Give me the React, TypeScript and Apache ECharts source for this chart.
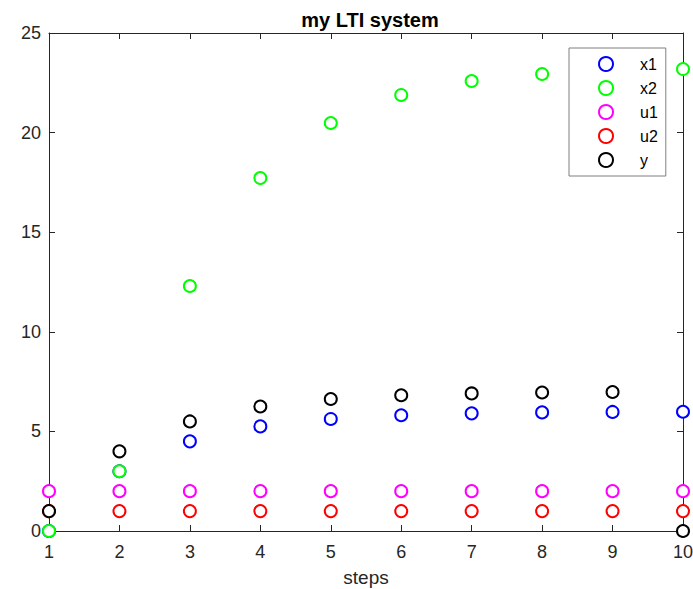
import React, { useEffect, useRef } from "react";
import * as echarts from "echarts";

const steps = [1, 2, 3, 4, 5, 6, 7, 8, 9, 10];
const x1 = [0, 3, 4.5, 5.25, 5.625, 5.8125, 5.906, 5.953, 5.977, 5.988];
const x2 = [0, 3, 12.3, 17.72, 20.48, 21.89, 22.59, 22.94, 23.1, 23.19];
const u1 = [2, 2, 2, 2, 2, 2, 2, 2, 2, 2];
const u2 = [1, 1, 1, 1, 1, 1, 1, 1, 1, 1];
const yOut = [1, 4, 5.5, 6.25, 6.625, 6.8125, 6.906, 6.953, 6.977, 0];
const seriesNames = ["x1", "x2", "u1", "u2", "y"];
const seriesColors = ["#0000ff", "#00ff00", "#ff00ff", "#ff0000", "#000000"];
const seriesData = [x1, x2, u1, u2, yOut];
const yTicks = [0, 5, 10, 15, 20, 25];

const FONT = "'Liberation Sans', Arial, Helvetica, sans-serif";
const AXIS_COLOR = "#262626";

export default function App() {
  const ref = useRef<HTMLDivElement>(null);
  useEffect(() => {
    document.body.style.margin = "0";
    if (!ref.current) return;
    const chart = echarts.init(ref.current, undefined, { renderer: "svg" });
    const axisCommon = {
      axisLine: { show: true, onZero: false, lineStyle: { color: AXIS_COLOR, width: 1 } },
      axisTick: { show: true, inside: true, length: 6, lineStyle: { color: AXIS_COLOR } },
      splitLine: { show: false },
    };
    chart.setOption({
      animation: false,
      backgroundColor: "#ffffff",
      textStyle: { fontFamily: FONT },
      title: {
        text: "my LTI system",
        left: 365,
        top: 5,
        textAlign: "center",
        textStyle: { fontFamily: FONT, fontWeight: "bold", fontSize: 20, color: "#000" },
      },
      grid: {
        left: 49,
        right: 10,
        top: 33,
        bottom: 58,
        containLabel: false,
        outerBoundsMode: "none",
      },
      legend: {
        data: seriesNames,
        orient: "vertical",
        left: 569,
        top: 48,
        width: 96,
        padding: [8, 8, 8, 29],
        itemWidth: 14,
        itemHeight: 14,
        itemGap: 8,
        icon: "emptyCircle",
        backgroundColor: "#ffffff",
        borderColor: "#7f7f7f",
        borderWidth: 1,
        borderRadius: 0,
        itemStyle: { borderWidth: 1.2 },
        textStyle: {
          fontFamily: FONT,
          fontSize: 16,
          lineHeight: 14,
          color: "#000",
          padding: [0, 0, 0, 22],
        },
      },
      xAxis: [
        {
          type: "value",
          min: 1,
          max: 10,
          interval: 1,
          position: "bottom",
          ...axisCommon,
          axisLabel: { fontSize: 18, color: AXIS_COLOR, margin: 12, fontFamily: FONT },
          name: "steps",
          nameLocation: "middle",
          nameGap: 37,
          nameTextStyle: { fontSize: 19, lineHeight: 19, color: AXIS_COLOR, fontFamily: FONT },
        },
        {
          type: "value",
          min: 1,
          max: 10,
          interval: 1,
          position: "top",
          ...axisCommon,
          axisLabel: { show: false },
        },
      ],
      yAxis: [
        {
          type: "value",
          min: yTicks[0],
          max: yTicks[yTicks.length - 1],
          interval: 5,
          position: "left",
          ...axisCommon,
          axisLabel: { fontSize: 18, color: AXIS_COLOR, margin: 8, fontFamily: FONT },
        },
        {
          type: "value",
          min: yTicks[0],
          max: yTicks[yTicks.length - 1],
          interval: 5,
          position: "right",
          ...axisCommon,
          axisLabel: { show: false },
        },
      ],
      series: seriesNames.map((name, i) => ({
        name,
        type: "scatter",
        symbol: "emptyCircle",
        symbolSize: 12,
        xAxisIndex: 0,
        yAxisIndex: 0,
        itemStyle: {
          color: seriesColors[i],
          borderColor: seriesColors[i],
          borderWidth: 1.2,
          opacity: 1,
        },
        data: steps.map((s, k) => [s, seriesData[i][k]]),
        z: 2 + i * 0.01,
      })),
    });
    return () => chart.dispose();
  }, []);
  return <div ref={ref} style={{ width: 693, height: 589 }} />;
}
